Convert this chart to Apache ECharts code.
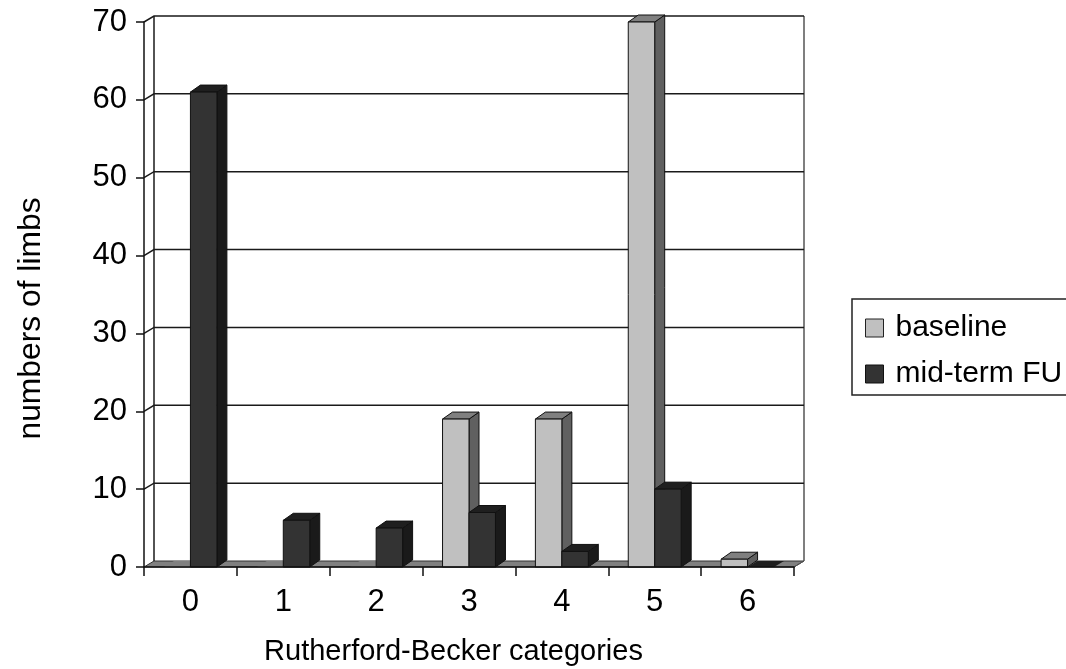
<!DOCTYPE html>
<html>
<head>
<meta charset="utf-8">
<style>html,body{margin:0;padding:0;background:#fff;overflow:hidden}#c{width:1066px;height:669px}</style>
<script src="https://cdn.jsdelivr.net/npm/echarts@6/dist/echarts.min.js"></script>
</head>
<body>
<div id="c"></div>
<script>
const categories = ['0','1','2','3','4','5','6'];
const baseline = [0,0,0,19,19,70,1];
const midTerm = [61,6,5,7,2,10,0];
const gridValues = [0,10,20,30,40,50,60,70];

const DEPTH_X = 10, WALL_Y = 6, BAR_Y = 7;
const FONT = '"Liberation Sans", Arial, sans-serif';

function wallItem(params, api) {
  const rect = params.coordSys;
  const v = api.value(0);
  const y = api.coord([0, v])[1];
  const x0 = rect.x, x1 = rect.x + rect.width;
  const children = [];
  const line = { stroke: '#1a1a1a', lineWidth: 1.5, fill: null };
  if (v === 0) {
    children.push({ type: 'polygon', shape: { points: [[x0,y],[x0+DEPTH_X,y-WALL_Y],[x1+DEPTH_X,y-WALL_Y],[x1,y]] },
      style: { fill: '#808080', stroke: '#333', lineWidth: 1 } });
    const top = api.coord([0, gridValues[gridValues.length-1]])[1] - WALL_Y;
    children.push({ type: 'line', shape: { x1: x0+DEPTH_X, y1: top, x2: x0+DEPTH_X, y2: y-WALL_Y }, style: line });
    children.push({ type: 'line', shape: { x1: x1+DEPTH_X, y1: top, x2: x1+DEPTH_X, y2: y-WALL_Y }, style: { stroke: '#555', lineWidth: 1.5 } });
    children.push({ type: 'line', shape: { x1: x1+DEPTH_X, y1: y-WALL_Y, x2: x1, y2: y }, style: { stroke: '#555', lineWidth: 1 } });
  } else {
    children.push({ type: 'polyline', shape: { points: [[x0,y],[x0+DEPTH_X,y-WALL_Y],[x1+DEPTH_X,y-WALL_Y]] }, style: line });
  }
  return { type: 'group', children };
}

function barRenderer(side, front, top, right) {
  return function (params, api) {
    const i = api.value(0), v = api.value(1);
    const band = api.size([1, 0])[0];
    const w = band * 0.285;
    const c = api.coord([i, 0]);
    const h = api.coord([i, v]);
    const xl = side < 0 ? c[0] - w : c[0];
    const xr = xl + w;
    const yb = c[1], yt = h[1];
    const edge = { stroke: '#111', lineWidth: 1 };
    if (v === 0) {
      return { type: 'polygon', shape: { points: [[xl,yt],[xl+DEPTH_X,yt-WALL_Y],[xr+DEPTH_X,yt-WALL_Y],[xr,yt]] }, style: { fill: top, stroke: null } };
    }
    return { type: 'group', children: [
      { type: 'polygon', shape: { points: [[xr,yt],[xr+DEPTH_X,yt-BAR_Y],[xr+DEPTH_X,yb-BAR_Y],[xr,yb]] }, style: Object.assign({ fill: right }, edge) },
      { type: 'polygon', shape: { points: [[xl,yt],[xl+DEPTH_X,yt-BAR_Y],[xr+DEPTH_X,yt-BAR_Y],[xr,yt]] }, style: Object.assign({ fill: top }, edge) },
      { type: 'rect', shape: { x: xl, y: yt, width: w, height: yb - yt }, style: Object.assign({ fill: front }, edge) }
    ] };
  };
}

const chart = echarts.init(document.getElementById('c'), null, { renderer: 'canvas' });
chart.setOption({
  animation: false,
  backgroundColor: '#fff',
  grid: { left: 144, top: 22, width: 650, height: 545, containLabel: false, outerBoundsMode: 'none' },
  legend: {
    left: 852, top: 299, orient: 'vertical',
    padding: [14, 60, 6, 13],
    itemWidth: 18, itemHeight: 18, itemGap: 16,
    borderColor: '#222', borderWidth: 1.5, backgroundColor: '#fff',
    textStyle: { fontFamily: FONT, fontSize: 30, color: '#000', padding: [0, 0, 0, 7] },
    data: [
      { name: 'baseline', icon: 'rect', itemStyle: { color: '#c0c0c0', borderColor: '#222', borderWidth: 1 } },
      { name: 'mid-term FU', icon: 'rect', itemStyle: { color: '#333333', borderColor: '#111', borderWidth: 1 } }
    ]
  },
  xAxis: {
    type: 'category', data: categories, z: 10,
    name: 'Rutherford-Becker categories', nameLocation: 'middle', nameGap: 70,
    nameTextStyle: { fontFamily: FONT, fontSize: 29, color: '#000', padding: [0, 31, 0, 0] },
    axisLine: { show: true, lineStyle: { color: '#111', width: 1.5 } },
    axisTick: { show: true, length: 9, inside: false, alignWithLabel: false, lineStyle: { color: '#111', width: 1.5 } },
    axisLabel: { fontFamily: FONT, fontSize: 31, color: '#000', margin: 20 },
    splitLine: { show: false }
  },
  yAxis: {
    type: 'value', min: 0, max: 70, interval: 10, z: 10,
    name: 'numbers of limbs', nameLocation: 'middle', nameGap: 97, nameRotate: 90,
    nameTextStyle: { fontFamily: FONT, fontSize: 31.8, color: '#000', padding: [0, 48, 0, 0] },
    axisLine: { show: true, lineStyle: { color: '#111', width: 1.5 } },
    axisTick: { show: true, length: 8, lineStyle: { color: '#111', width: 1.5 } },
    axisLabel: { fontFamily: FONT, fontSize: 31, color: '#000', margin: 17 },
    splitLine: { show: false }
  },
  series: [
    { type: 'custom', name: 'walls', silent: true, clip: false, z: 1,
      renderItem: wallItem, encode: { y: 0 },
      data: gridValues.map(v => [v]) },
    { type: 'custom', name: 'baseline', clip: false, z: 2,
      itemStyle: { color: '#c0c0c0' },
      renderItem: barRenderer(-1, '#c0c0c0', '#808080', '#606060'),
      encode: { x: 0, y: 1 },
      data: baseline.map((v, i) => [i, v]) },
    { type: 'custom', name: 'mid-term FU', clip: false, z: 3,
      itemStyle: { color: '#333333' },
      renderItem: barRenderer(1, '#333333', '#1f1f1f', '#1a1a1a'),
      encode: { x: 0, y: 1 },
      data: midTerm.map((v, i) => [i, v]) }
  ]
});
</script>
</body>
</html>
